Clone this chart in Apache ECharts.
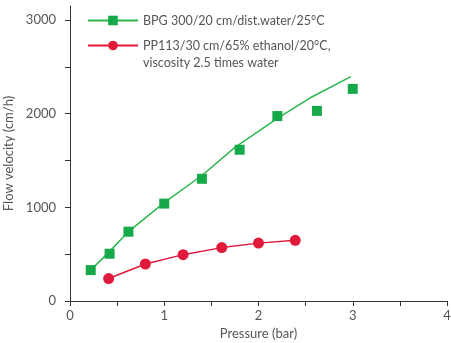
<!DOCTYPE html>
<html>
<head>
<meta charset="utf-8">
<script src="https://cdn.jsdelivr.net/npm/echarts@6/dist/echarts.min.js"></script>
<style>
  html, body { margin: 0; padding: 0; background: #fff; }
  #container1 { width: 451px; height: 343px; }
</style>
</head>
<body>
<div id="container1"></div>
<script>
var bpgName = 'BPG 300/20 cm/dist.water/25°C';
var ppName = 'PP113/30 cm/65% ethanol/20°C,\nviscosity 2.5 times water';

// measured points, BPG (squares)
var bpgPressure = [0.22, 0.42, 0.62, 1.0, 1.4, 1.8, 2.2, 2.62, 3.0];
var bpgVelocity = [330, 505, 740, 1040, 1305, 1615, 1975, 2030, 2265];
// fitted curve for BPG
var fitPressure = [0.22, 0.42, 0.62, 1.0, 1.4, 1.75, 2.2, 2.55, 2.98];
var fitVelocity = [330, 530, 740, 1050, 1340, 1640, 1950, 2170, 2395];
// PP113 (circles)
var ppPressure = [0.41, 0.8, 1.2, 1.61, 2.0, 2.39];
var ppVelocity = [240, 395, 495, 570, 618, 648];

// axis ticks and labels
var xTicks = [0, 0.5, 1, 1.5, 2, 2.5, 3, 3.5, 4];
var xLabels = [0, 1, 2, 3, 4];
var yTicks = [0, 500, 1000, 1500, 2000, 2500, 3000];
var yLabels = [0, 1000, 2000, 3000];

function pairs(xs, ys) {
    return xs.map(function (x, i) { return [x, ys[i]]; });
}

var green = '#16a94a';
var greenLine = '#2cb84f';
var red = '#e01a3b';
var axisColor = '#333';
var textColor = '#555';
var font = 'Lato, "Noto Sans", sans-serif';

var myChart = echarts.init(document.getElementById('container1'));

option = {
    animation: false,
    textStyle: { fontFamily: font },
    grid: { left: 70, right: 4, top: 6, bottom: 42, outerBoundsMode: 'none' },
    legend: [
        {
            left: 82, top: 9,
            itemWidth: 50, itemHeight: 12,
            textStyle: { color: textColor, fontSize: 12.5, fontFamily: font },
            data: [bpgName]
        },
        {
            left: 82, top: 15,
            itemWidth: 50, itemHeight: 12,
            textStyle: { color: textColor, fontSize: 12.5, fontFamily: font, lineHeight: 17 },
            formatter: function (name) { return '\n' + name; },
            data: [ppName]
        }
    ],
    xAxis: {
        type: 'value',
        min: 0, max: 4,
        name: 'Pressure (bar)',
        nameLocation: 'middle',
        nameGap: 26,
        nameTextStyle: { color: textColor, fontSize: 13 },
        axisLine: { show: true, onZero: false, lineStyle: { color: axisColor } },
        axisTick: { show: true, length: 5, customValues: xTicks, lineStyle: { color: axisColor, width: 1 } },
        axisLabel: { customValues: xLabels, color: textColor, fontSize: 13, margin: 8, formatter: function (v) { return String(v); } },
        splitLine: { show: false }
    },
    yAxis: {
        type: 'value',
        min: 0, max: 3150,
        name: 'Flow velocity (cm/h)',
        nameLocation: 'middle',
        nameGap: 42,
        nameTextStyle: { color: textColor, fontSize: 13 },
        axisLine: { show: true, onZero: false, lineStyle: { color: axisColor } },
        axisTick: { show: true, length: 5, customValues: yTicks, lineStyle: { color: axisColor, width: 1 } },
        axisLabel: { customValues: yLabels, color: textColor, fontSize: 13, margin: 14, formatter: function (v) { return String(v); } },
        splitLine: { show: false }
    },
    series: [
        {
            name: bpgName,
            type: 'line',
            data: pairs(fitPressure, fitVelocity),
            showSymbol: false,
            symbol: 'rect',
            symbolSize: 10,
            itemStyle: { color: green },
            lineStyle: { color: greenLine, width: 1.5 },
            z: 2
        },
        {
            name: bpgName,
            type: 'scatter',
            data: pairs(bpgPressure, bpgVelocity),
            symbol: 'rect',
            symbolSize: 10,
            itemStyle: { color: green, opacity: 1 },
            z: 3
        },
        {
            name: ppName,
            type: 'line',
            data: pairs(ppPressure, ppVelocity),
            symbol: 'circle',
            symbolSize: 11,
            itemStyle: { color: red, opacity: 1 },
            lineStyle: { color: red, width: 1.5 },
            z: 3
        }
    ]
};

myChart.setOption(option, true);
</script>
</body>
</html>
